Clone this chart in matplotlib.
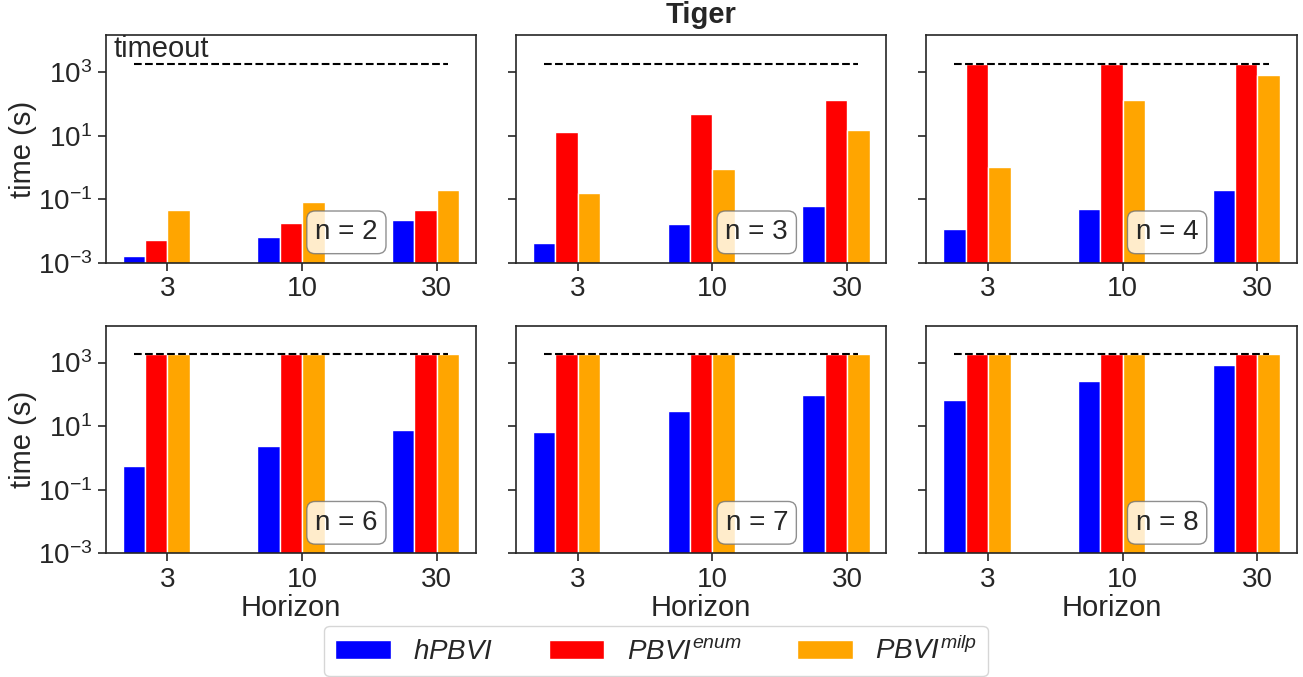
import matplotlib
matplotlib.use('Agg')
import matplotlib.pyplot as plt
import numpy as np

plt.rcParams['font.family'] = ['Liberation Sans', 'DejaVu Sans']
plt.rcParams['mathtext.fontset'] = 'custom'
plt.rcParams['mathtext.rm'] = 'Liberation Sans'
plt.rcParams['mathtext.it'] = 'Liberation Sans:italic'
plt.rcParams['axes.edgecolor'] = '.15'
plt.rcParams['xtick.color'] = '.15'
plt.rcParams['ytick.color'] = '.15'
plt.rcParams['text.color'] = '.15'
plt.rcParams['axes.labelcolor'] = '.15'

# data (seconds)
horizons = ['3', '10', '30']
n_values = [2, 3, 4, 6, 7, 8]
timeout = 1800

hpbvi = [[0.0017, 0.0065, 0.022],
         [0.0043, 0.017, 0.063],
         [0.0117, 0.05, 0.2],
         [0.54, 2.3, 7.6],
         [6.5, 29, 94],
         [65, 260, 815]]
pbvi_enum = [[0.0052, 0.018, 0.045],
             [13, 49, 135],
             [1800, 1800, 1800],
             [1800, 1800, 1800],
             [1800, 1800, 1800],
             [1800, 1800, 1800]]
pbvi_milp = [[0.045, 0.081, 0.19],
             [0.155, 0.87, 14.8],
             [1.0, 135, 790],
             [1800, 1800, 1800],
             [1800, 1800, 1800],
             [1800, 1800, 1800]]

labels = ['$hPBVI$', '$PBVI^{enum}$', '$PBVI^{milp}$']
colors = ['blue', 'red', 'orange']

fig, axes = plt.subplots(2, 3, figsize=(13.03, 6.77), dpi=100, sharey=True)
plt.subplots_adjust(left=0.0811, right=0.9952, top=0.948, bottom=0.1827,
                    wspace=0.108, hspace=0.276)

x = np.arange(len(horizons))
w = 1 / 6
for i, ax in enumerate(axes.flat):
    series = [hpbvi[i], pbvi_enum[i], pbvi_milp[i]]
    for k in range(3):
        ax.bar(x + (k - 1.5) * w, series[k], width=w, color=colors[k],
               edgecolor='white', linewidth=1, label=labels[k], align='center')
    ax.hlines(timeout, x[0] - 1.5 * w, x[-1] + 0.5 * w, colors='black',
              linestyles='dashed', linewidth=1.5, zorder=5)
    ax.set_yscale('log')
    ax.set_ylim(1e-3, 1.45e4)
    ax.set_yticks([1e-3, 1e-1, 1e1, 1e3])
    ax.minorticks_off()
    ax.set_xticks(x)
    ax.set_xticklabels(horizons)
    ax.tick_params(axis='x', labelsize=20, length=6, width=1.2)
    ax.tick_params(axis='y', labelsize=20, length=6, width=1.2)
    for s in ax.spines.values():
        s.set_linewidth(1.2)
    ax.text(0.65, 0.134, 'n = %d' % n_values[i], transform=ax.transAxes,
            ha='center', va='center', fontsize=20, zorder=6,
            bbox=dict(boxstyle='round', facecolor='white', edgecolor='0.45',
                      alpha=0.8))
    if i % 3 == 0:
        ax.set_ylabel('time (s)', fontsize=21, labelpad=1)
    if i >= 3:
        ax.set_xlabel('Horizon', fontsize=21, labelpad=1)

axes[0, 0].text(0.02, 1.0, 'timeout', transform=axes[0, 0].transAxes,
                ha='left', va='top', fontsize=21)
axes[0, 1].set_title('Tiger', fontsize=21, fontweight='bold', pad=9)

handles, lbls = axes[0, 0].get_legend_handles_labels()
fig.legend(handles, lbls, loc='center', bbox_to_anchor=(0.5035, 0.0384),
           ncol=3, fontsize=20, frameon=True, fancybox=True)

fig.savefig('out.png', dpi=100)
